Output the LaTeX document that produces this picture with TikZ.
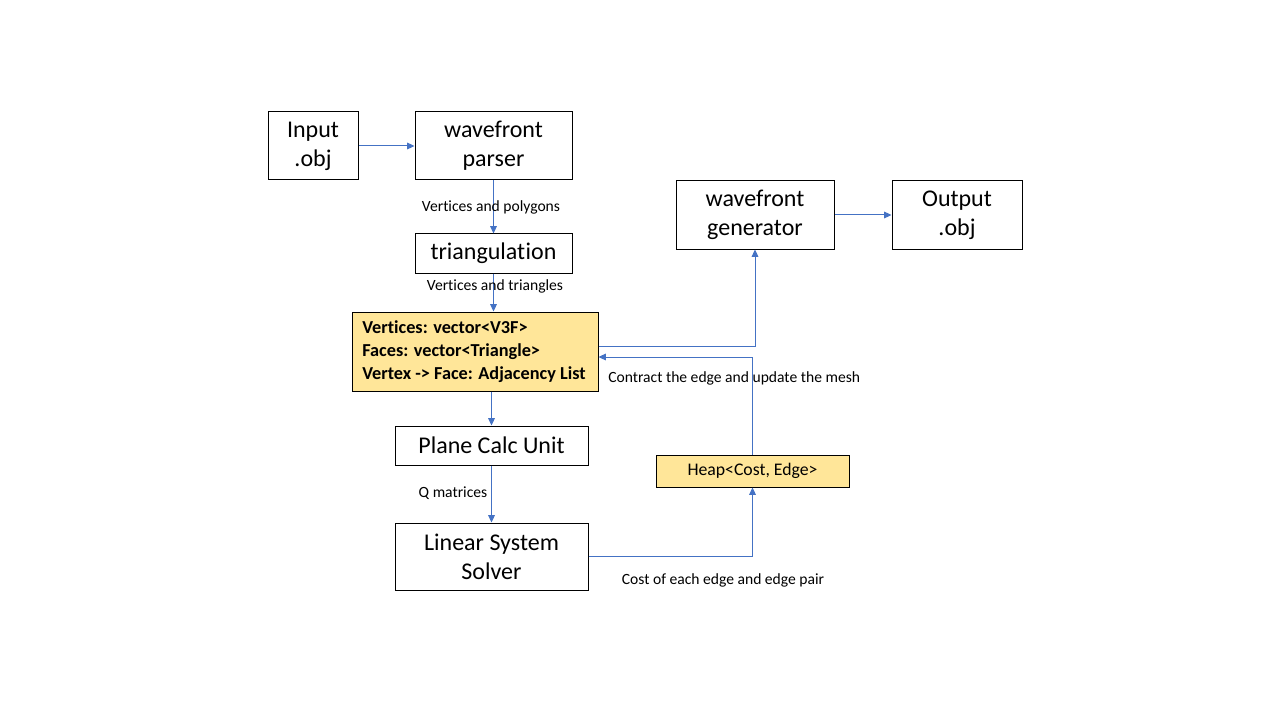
\documentclass[tikz,border=0pt]{standalone}
\usepackage{fontspec}
\setmainfont{Carlito}[RawFeature={-liga;-clig;-dlig;-calt;-hlig}]
\usetikzlibrary{arrows.meta}
\definecolor{lineblue}{HTML}{4472C4}
\definecolor{boxyellow}{HTML}{FFE699}
\begin{document}
\begin{tikzpicture}[x=0.75pt,y=-0.75pt,
  box/.style={draw=black,line width=0.75pt,inner sep=0pt,align=center,font=\fontsize{18}{21.75}\selectfont},
  ybox/.style={draw=black,line width=0.75pt,fill=boxyellow,inner sep=0pt},
  arr/.style={draw=lineblue,line width=0.75pt,-{Triangle[length=5.5pt,width=5pt]}},
  lbl/.style={font=\fontsize{11.7}{13}\selectfont,inner sep=0pt}]
\useasboundingbox (0,0) rectangle (1280,720);
\node[box,minimum width=67.5pt,minimum height=51pt] (inp) at (313,146) {Input\\.obj};
\node[box,minimum width=117.75pt,minimum height=51pt] (parser) at (493.5,146) {wavefront\\parser};
\node[box,minimum width=117.75pt,minimum height=29.25pt] (tri) at (493.5,253.5) {triangulat\kern0.3pt ion};
\node[ybox,minimum width=184.5pt,minimum height=59.25pt] (mesh) at (475,351.5) {};
\node[anchor=west,inner sep=0pt,align=left,font=\bfseries\fontsize{13.7}{17.25}\selectfont] (meshtxt) at (362,352) {Vertices: vector<V3F>\\Faces: vector<Triangle>\\Vertex -> Face: Adjacency List};
\node[box,minimum width=144.75pt,minimum height=29.25pt] (plane) at (491.5,445.5) {Plane Calc Unit};
\node[box,minimum width=144.75pt,minimum height=50.25pt] (solver) at (491.5,556.5) {Linear System\\Solver};
\node[ybox,minimum width=144.75pt,minimum height=24pt,font=\fontsize{13.3}{16}\selectfont] (heap) at (752.5,471) {Heap<Cost, Edge>};
\node[box,minimum width=118.5pt,minimum height=51pt] (gen) at (755,215) {wavefront\\generator};
\node[box,minimum width=97.5pt,minimum height=51pt] (out) at (957,215) {Output\\.obj};
\coordinate (c1) at (753,357);
\coordinate (c2) at (754,346);
\draw[arr] (inp) -- (parser);
\draw[arr] (parser) -- (tri);
\draw[arr] (tri.south) -- (tri.south |- mesh.north);
\draw[arr] (plane.north |- mesh.south) -- (plane.north);
\draw[arr] (plane) -- (solver);
\draw[arr] (solver.east) -| (heap.south);
\draw[arr] (heap.north) -- (heap.north |- c1) -- (mesh.east |- c1);
\draw[arr] (mesh.east |- c2) -| (gen.south);
\draw[arr] (gen) -- (out);
\node[lbl] (l1) at (491,207) {Vertices and polygons};
\node[lbl] (l2) at (495,286) {Vertices and triangles};
\node[lbl,anchor=west] (l3) at (608,378) {Contract the edge and update the mesh};
\node[lbl] (l4) at (453,493) {Q matrices};
\node[lbl] (l5) at (723,580) {Cost of each edge and edge pair};
\end{tikzpicture}
\end{document}
